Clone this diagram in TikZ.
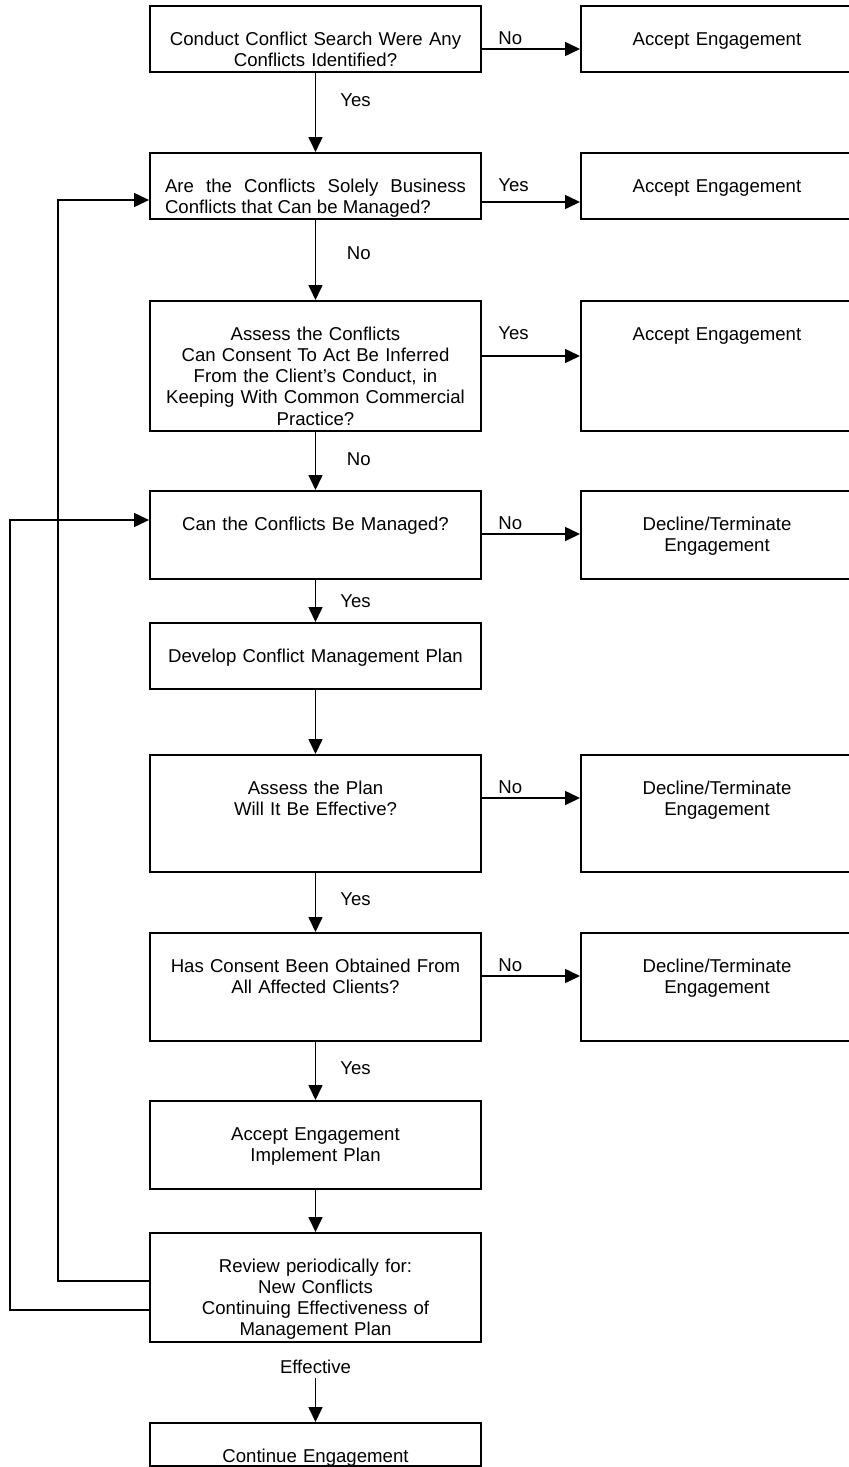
\documentclass[tikz,border=0pt]{standalone}
\usepackage{fontspec}
\setmainfont{Liberation Sans}
\usepackage{tikz}
\usetikzlibrary{arrows.meta,positioning,calc}
\hyphenpenalty=10000
\exhyphenpenalty=10000

\begin{document}
\begin{tikzpicture}[x=0.5pt, y=-0.5pt,
  font=\fontsize{9.3}{10.65}\selectfont,
  box/.style={draw=black, line width=1pt, inner sep=0pt, anchor=north, text width=165.5pt, align=center, text height=19.5pt, text depth=#1},
  rbox/.style={box=#1, anchor=north west, text width=136pt},
  flow/.style={-{Triangle[length=7.5pt, width=7pt]}, line width=0.8pt},
  hlabel/.style={anchor=base west, inner sep=0pt},
  vlabel/.style={anchor=east, inner sep=0pt, xshift=28pt}]
  \useasboundingbox (0,0) rectangle (849,1467);

  \node (Q1) [box=13.5pt] at (315.5,5) {Conduct Conflict Search Were Any\\Conflicts Identified?};
  \node (Q2) [box=13.5pt, text width=150.5pt, inner xsep=7.5pt, align=justify] at (315.5,152) {Are the Conflicts Solely Business Conflicts that Can be Managed?};
  \node (Q3) [box=45.5pt] at (315.5,300) {Assess the Conflicts\\Can Consent To Act Be Inferred\\From the Client’s Conduct, in\\Keeping With Common Commercial\\Practice?};
  \node (Q4) [box=24.5pt] at (315.5,490) {Can the Conflicts Be Managed?};
  \node (Q5) [box=13.5pt] at (315.5,622) {Develop Conflict Management Plan};
  \node (Q6) [box=39pt] at (315.5,754) {Assess the Plan\\Will It Be Effective?};
  \node (Q7) [box=34.5pt] at (315.5,932) {Has Consent Been Obtained From\\All Affected Clients?};
  \node (Q8) [box=24.5pt] at (315.5,1100) {Accept Engagement\\Implement Plan};
  \node (Q9) [box=35pt] at (315.5,1232) {Review periodically for:\\New Conflicts\\Continuing Effectiveness of\\Management Plan};
  \node (Q10) [box=2pt] at (315.5,1422) {Continue Engagement};

  \node (R1) [rbox=13.5pt] at (580,5) {Accept Engagement};
  \node (R2) [rbox=13.5pt] at (580,152) {Accept Engagement};
  \node (R3) [rbox=45.5pt] at (580,300) {Accept Engagement};
  \node (R4) [rbox=24.5pt] at (580,490) {Decline/Terminate\\Engagement};
  \node (R6) [rbox=39pt] at (580,754) {Decline/Terminate\\Engagement};
  \node (R7) [rbox=34.5pt] at (580,932) {Decline/Terminate\\Engagement};

  \draw[flow] ([yshift=-22pt]Q1.north east) -- ([yshift=-22pt]R1.north west);
  \draw[flow] ([yshift=-25pt]Q2.north east) -- ([yshift=-25pt]R2.north west);
  \draw[flow] ([yshift=-28pt]Q3.north east) -- ([yshift=-28pt]R3.north west);
  \draw[flow] ([yshift=-22pt]Q4.north east) -- ([yshift=-22pt]R4.north west);
  \draw[flow] ([yshift=-22pt]Q6.north east) -- ([yshift=-22pt]R6.north west);
  \draw[flow] ([yshift=-22pt]Q7.north east) -- ([yshift=-22pt]R7.north west);

  \node[hlabel] at ([shift={(8pt,-19.5pt)}]Q1.north east) {No};
  \node[hlabel] at ([shift={(8pt,-19.5pt)}]Q2.north east) {Yes};
  \node[hlabel] at ([shift={(8pt,-19.5pt)}]Q3.north east) {Yes};
  \node[hlabel] at ([shift={(8pt,-19.5pt)}]Q4.north east) {No};
  \node[hlabel] at ([shift={(8pt,-19.5pt)}]Q6.north east) {No};
  \node[hlabel] at ([shift={(8pt,-19.5pt)}]Q7.north east) {No};

  \draw[flow] (Q1) -- node[vlabel, pos=.35]{Yes} (Q2);
  \draw[flow] (Q2) -- node[vlabel, pos=.41]{No} (Q3);
  \draw[flow] (Q3) -- node[vlabel, pos=.47]{No} (Q4);
  \draw[flow] (Q4) -- node[vlabel, pos=.5]{Yes} (Q5);
  \draw[flow] (Q5) -- (Q6);
  \draw[flow] (Q6) -- node[vlabel, pos=.44]{Yes} (Q7);
  \draw[flow] (Q7) -- node[vlabel, pos=.45]{Yes} (Q8);
  \draw[flow] (Q8) -- (Q9);
  \node (E) [inner sep=0pt] at (315.5,1367) {Effective};
  \draw[flow, shorten <=2pt] (E) -- (Q10);

  \coordinate (L1) at (58,200);
  \coordinate (L2) at (10,520);
  \draw[flow] ([yshift=-24.5pt]Q9.north west) -| (L1) -- ([yshift=-24pt]Q2.north west);
  \draw[flow] ([yshift=-39pt]Q9.north west) -| (L2) -- ([yshift=-15pt]Q4.north west);
\end{tikzpicture}
\end{document}
